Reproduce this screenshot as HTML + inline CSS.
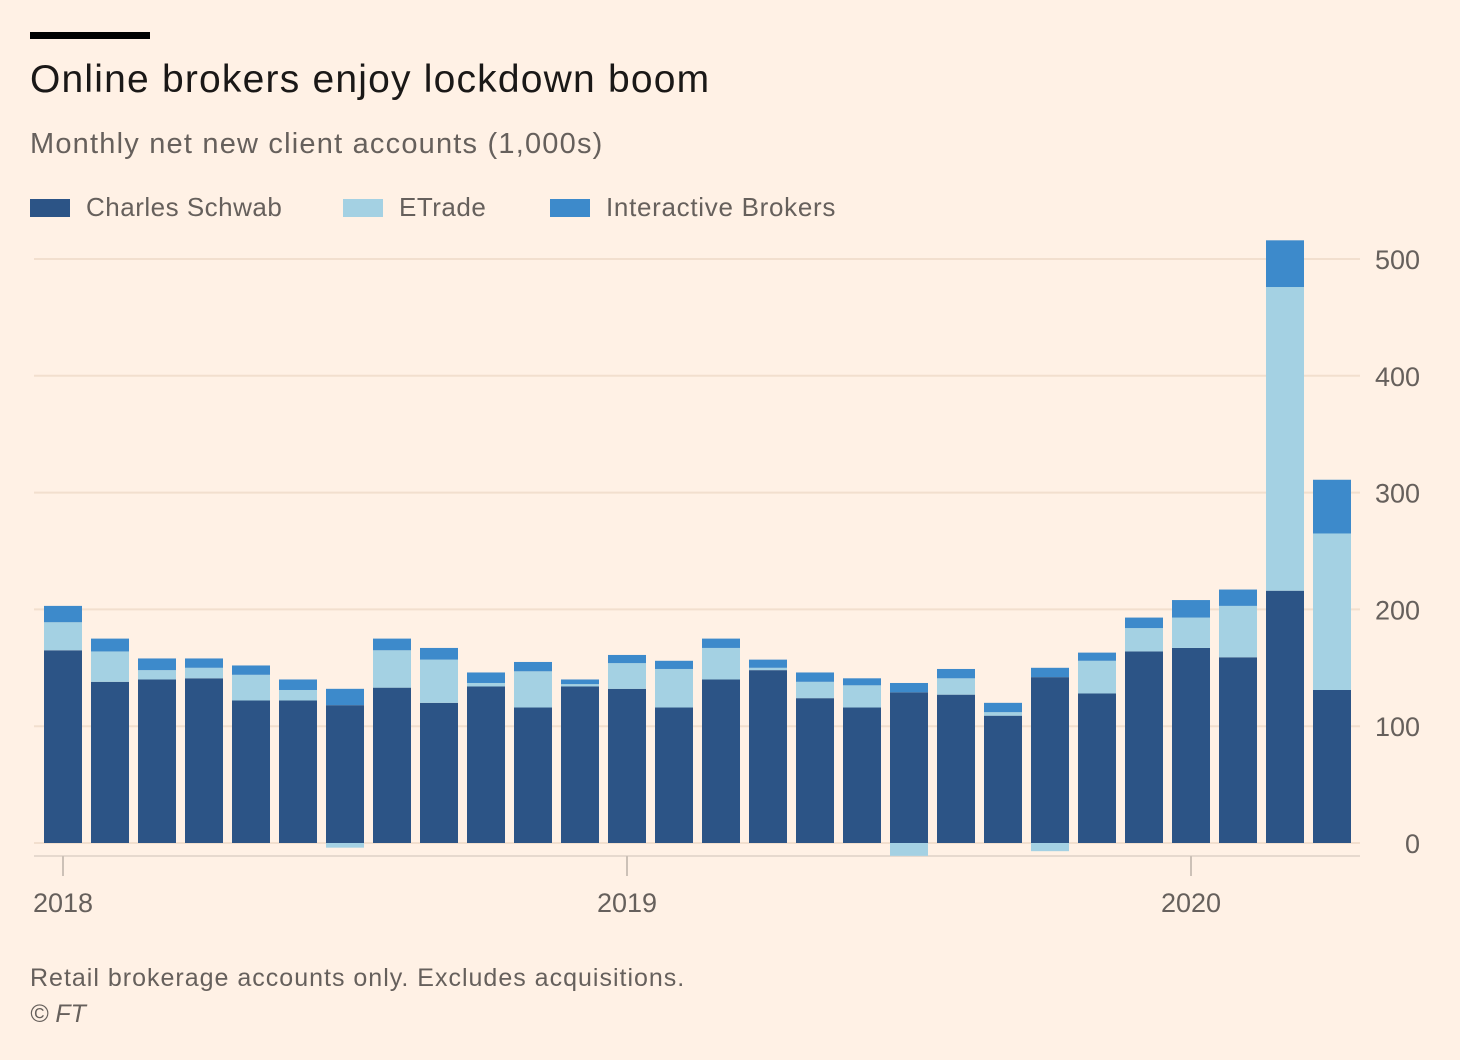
<!DOCTYPE html>
<html><head><meta charset="utf-8"><style>
body{margin:0;background:#fff1e5;font-family:"Liberation Sans",sans-serif;}
#wrap{position:relative;width:1460px;height:1060px;overflow:hidden;background:#fff1e5;}
.t{position:absolute;white-space:nowrap;}
</style></head><body>
<div id="wrap">
<div class="t" style="left:30px;top:32px;width:120px;height:7px;background:#000"></div>
<div class="t" style="left:30px;top:58px;font-size:39px;letter-spacing:1.2px;color:#1a1817">Online brokers enjoy lockdown boom</div>
<div class="t" style="left:30px;top:128px;font-size:29px;letter-spacing:1.2px;color:#66605c">Monthly net new client accounts (1,000s)</div>
<div class="t" style="left:30px;top:192px;font-size:26px;letter-spacing:0.5px;color:#66605c"><span style="display:inline-block;width:40px;height:18px;background:#2c5486;vertical-align:-1px;margin-right:16px"></span>Charles Schwab</div>
<div class="t" style="left:343px;top:192px;font-size:26px;letter-spacing:0.5px;color:#66605c"><span style="display:inline-block;width:40px;height:18px;background:#a4d1e3;vertical-align:-1px;margin-right:16px"></span>ETrade</div>
<div class="t" style="left:550px;top:192px;font-size:26px;letter-spacing:0.7px;color:#66605c"><span style="display:inline-block;width:40px;height:18px;background:#3d8acb;vertical-align:-1px;margin-right:16px"></span>Interactive Brokers</div>
<svg id="chart" width="1460" height="1060" style="position:absolute;left:0;top:0"></svg>
<div class="t" style="left:30px;top:964px;font-size:25px;letter-spacing:1px;color:#66605c">Retail brokerage accounts only. Excludes acquisitions.</div>
<div class="t" style="left:30px;top:1000px;font-size:25px;color:#66605c;font-style:italic">© FT</div>
</div>
<script>
const schwab=[165,138,140,141,122,122,118,133,120,134,116,134,132,116,140,148,124,116,129,127,109,142,128,164,167,159,216,131];
const etrade=[24,26,8,9,22,9,-4,32,37,3,31,2,22,33,27,2,14,19,-11,14,3,-7,28,20,26,44,260,134];
const ib=[14,11,10,8,8,9,14,10,10,9,8,4,7,7,8,7,8,6,8,8,8,8,7,9,15,14,40,46];
const yTicks=[0,100,200,300,400,500];
const xTickLabels=["2018","2019","2020"];
const xTickIdx=[0,12,24];
const ns="http://www.w3.org/2000/svg";
const svg=document.getElementById('chart');
const y=v=>843-v*1.168;
const x=i=>44+i*47;
const bw=38;
function mk(tag,attrs){const e=document.createElementNS(ns,tag);for(const k in attrs)e.setAttribute(k,attrs[k]);svg.appendChild(e);return e;}
yTicks.forEach(v=>{
  const l=mk('line',{x1:34,x2:1360,y1:y(v),y2:y(v),stroke:'#f2dfce','stroke-width':2});
  
  
  const t=mk('text',{x:1420,y:y(v)+10,'text-anchor':'end','font-size':27,fill:'#66605c','font-family':'Liberation Sans, sans-serif'});
  t.textContent=v;
  
  
});
const ax=mk('line',{x1:34,x2:1360,y1:856,y2:856,stroke:'#e6d9ce','stroke-width':2});


xTickIdx.forEach((idx,k)=>{
  const cx=x(idx)+bw/2;
  const tk=mk('line',{x1:cx,x2:cx,y1:856,y2:876,stroke:'#ccc1b7','stroke-width':2});
  
  
  const t=mk('text',{x:cx,y:912,'text-anchor':'middle','font-size':27,fill:'#66605c','font-family':'Liberation Sans, sans-serif'});
  t.textContent=xTickLabels[k];
  
  
});
function seg(i,a,b,col,name){
  const r=mk('rect',{x:x(i),y:Math.min(y(a),y(b)),width:bw,height:Math.abs(y(a)-y(b)),fill:col});
  
  
}
schwab.forEach((s,i)=>{
  seg(i,0,s,'#2c5486','bar-schwab');
  const e=etrade[i];
  let top=s;
  if(e>=0){seg(i,s,s+e,'#a4d1e3','bar-etrade');top=s+e;}
  else seg(i,0,e,'#a4d1e3','bar-etrade');
  seg(i,top,top+ib[i],'#3d8acb','bar-ib');
});
</script>
</body></html>
